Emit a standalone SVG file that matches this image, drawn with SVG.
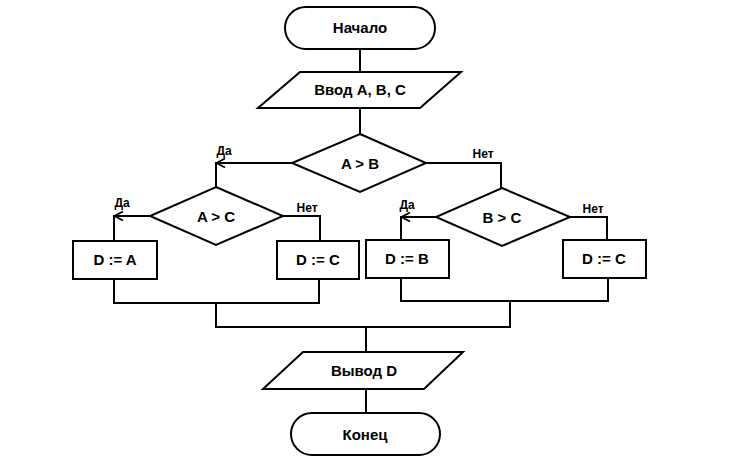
<svg xmlns="http://www.w3.org/2000/svg" width="742" height="458" viewBox="0 0 742 458">
<style>
.s{fill:#fff;stroke:#000;stroke-width:2}
.c{fill:none;stroke:#000;stroke-width:2}
.h{fill:none;stroke:#000;stroke-width:1.8}
.t{font-family:"Liberation Sans",Arial,sans-serif;font-weight:bold;font-size:15px;text-anchor:middle;fill:#000}
.l{font-family:"Liberation Sans",Arial,sans-serif;font-weight:bold;font-size:12px;text-anchor:middle;fill:#000}
</style>
<rect width="742" height="458" fill="#fff"/>
<g id="connectors">
<path class="c" d="M360,49 V72"/>
<path class="c" d="M360,108 V134"/>
<path class="c" d="M216,187 V163 H292"/>
<path class="h" d="M225,158.5 L216.5,163 L225,167.5"/>
<path class="c" d="M426,163 H501 V188"/>
<path class="c" d="M114,240 V216 H150"/>
<path class="h" d="M123,211.5 L114.5,216 L123,220.5"/>
<path class="c" d="M283,216 H320 V240"/>
<path class="c" d="M401,240 V217 H436"/>
<path class="h" d="M410,212.5 L401.5,217 L410,221.5"/>
<path class="c" d="M570,217 H607 V240"/>
<path class="c" d="M114,279 V303 H319 V279"/>
<path class="c" d="M401,278 V301 H608 V278"/>
<path class="c" d="M216,303 V327 H510 V301"/>
<path class="c" d="M366,327 V352"/>
<path class="c" d="M366,389 V413"/>
<text class="l" x="224" y="155">Да</text>
<text class="l" x="483" y="158">Нет</text>
<text class="l" x="122" y="207">Да</text>
<text class="l" x="307" y="212">Нет</text>
<text class="l" x="407" y="209">Да</text>
<text class="l" x="593" y="213">Нет</text>
</g>
<g id="start">
<rect class="s" x="285" y="7" width="150" height="42" rx="21"/>
<text class="t" x="360" y="33">Начало</text>
</g>
<g id="input">
<polygon class="s" points="300,72 461,72 420,108 258,108"/>
<text class="t" x="360" y="95">Ввод А, В, С</text>
</g>
<g id="d1">
<polygon class="s" points="360,134 426,163 360,192 292,163"/>
<text class="t" x="360" y="169">A &gt; B</text>
</g>
<g id="d2">
<polygon class="s" points="216,187 283,216 216,245 150,216"/>
<text class="t" x="216" y="222">A &gt; C</text>
</g>
<g id="d3">
<polygon class="s" points="502,188 570,217 502,246 436,217"/>
<text class="t" x="502" y="223">B &gt; C</text>
</g>
<g id="p1">
<rect class="s" x="73" y="241" width="84" height="38"/>
<text class="t" x="115" y="265">D := A</text>
</g>
<g id="p2">
<rect class="s" x="277" y="241" width="82" height="38"/>
<text class="t" x="318" y="265">D := C</text>
</g>
<g id="p3">
<rect class="s" x="366" y="240" width="83" height="38"/>
<text class="t" x="407" y="264">D := B</text>
</g>
<g id="p4">
<rect class="s" x="563" y="240" width="83" height="38"/>
<text class="t" x="604" y="264">D := C</text>
</g>
<g id="output">
<polygon class="s" points="303,352 463,352 424,389 263,389" />
<text class="t" x="364" y="376">Вывод D</text>
</g>
<g id="end">
<rect class="s" x="291" y="413" width="149" height="42" rx="21"/>
<text class="t" x="365" y="440">Конец</text>
</g>
</svg>
